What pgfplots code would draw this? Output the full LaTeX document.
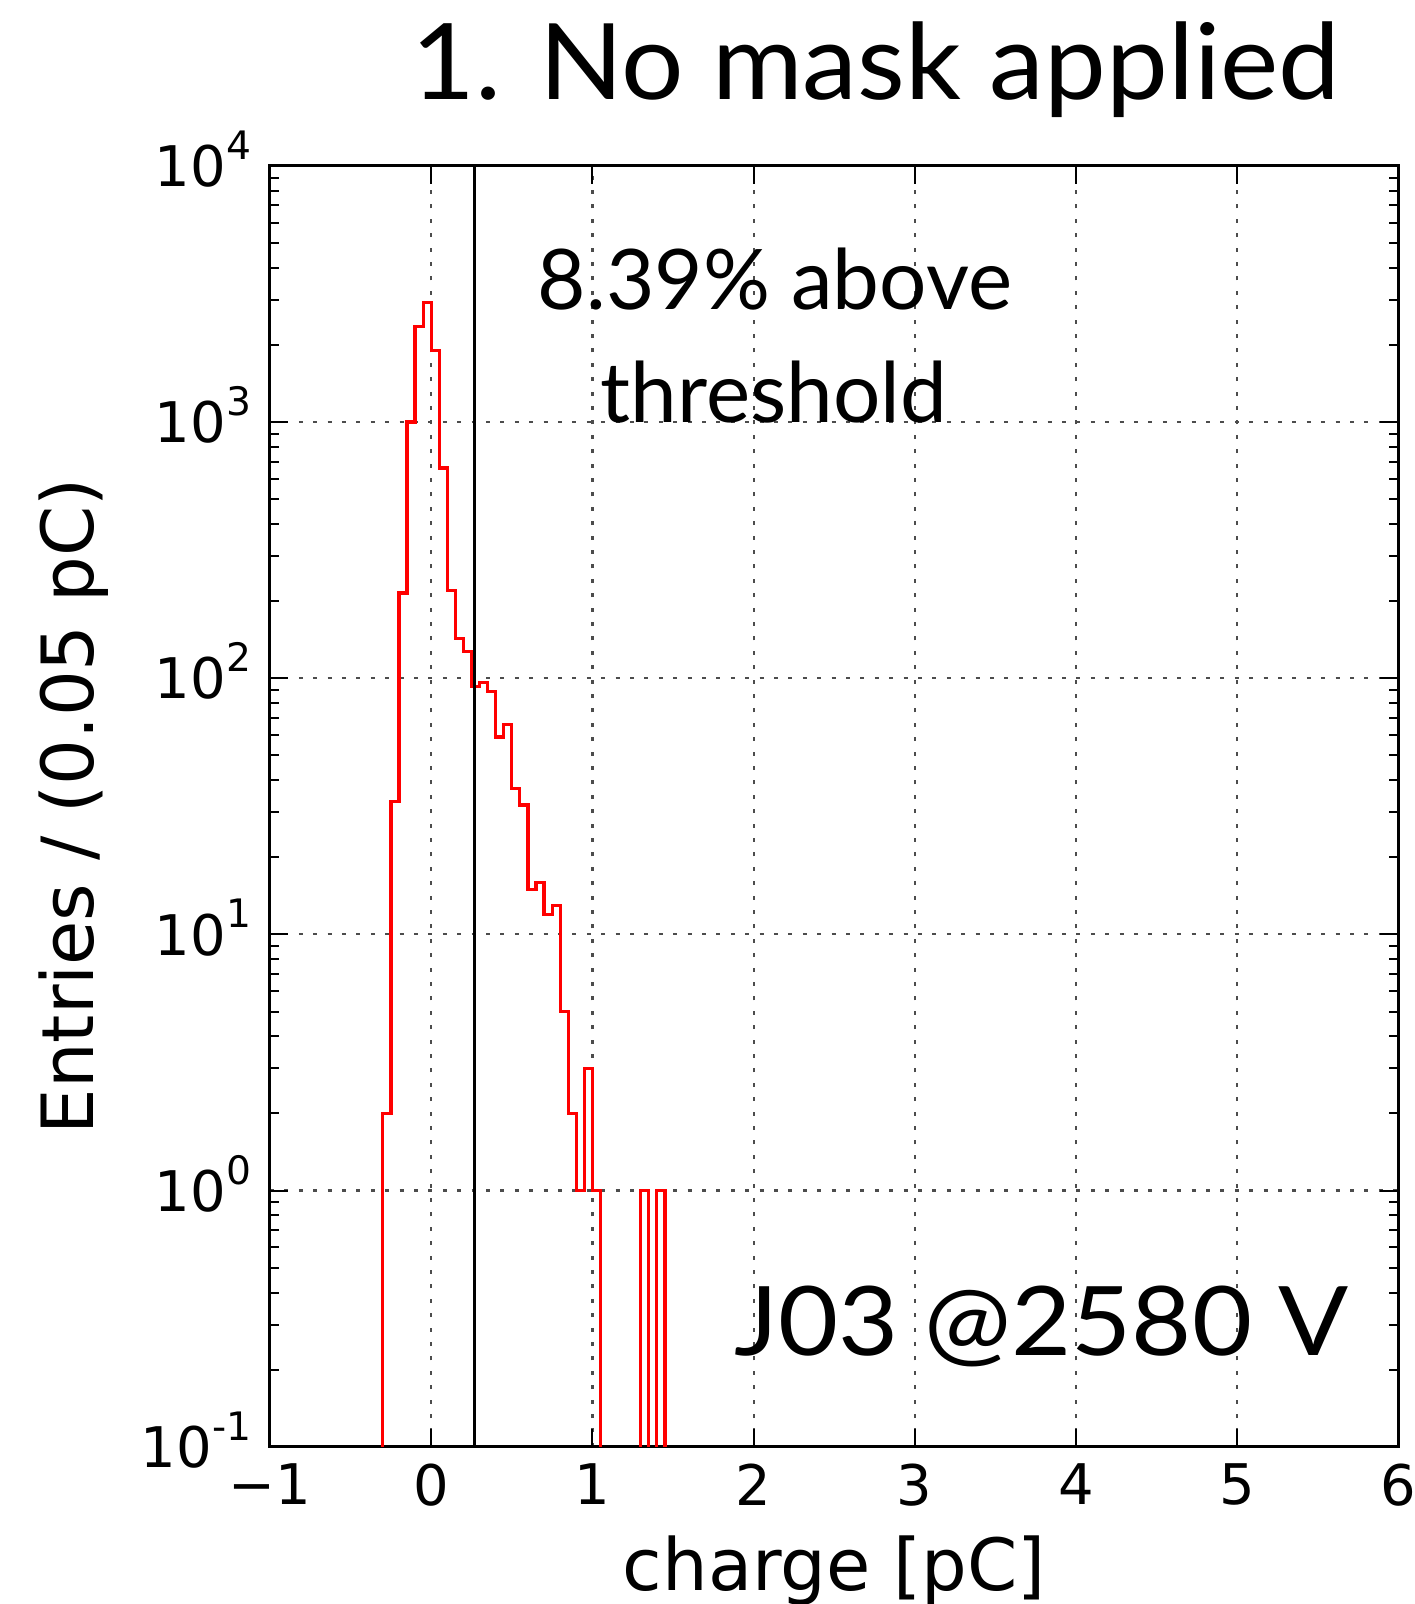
\documentclass[border=0pt]{standalone}
\usepackage{fontspec}
\setmainfont{DejaVu Sans}
\newfontfamily\lato{Lato}
\newfontfamily\latotitle[FakeStretch=1.044]{Lato}
\newfontfamily\latowide[FakeStretch=1.08]{Lato}
\usepackage{pgfplots}
\pgfplotsset{compat=1.18}
\newcommand\tp[1]{10\raisebox{6.8pt}{\fontsize{9.8pt}{10pt}\selectfont #1}}
\begin{document}
\begin{tikzpicture}
\useasboundingbox (-67.5pt,-39.3pt) rectangle (286pt,361.7pt);
\begin{axis}[
  at={(0,0)}, anchor=south west,
  scale only axis, width=282.1pt, height=320.25pt,
  xmin=-1, xmax=6, ymode=log, ymin=0.1, ymax=10000,
  xtick={-1,0,1,2,3,4,5,6}, xticklabels={−1,0,1,2,3,4,5,6},
  ytick={0.1,1,10,100,1000,10000},
  yticklabels={\tp{-1},\tp{0},\tp{1},\tp{2},\tp{3},\tp{4}},
  tick align=inside, major tick length=4.5pt, minor tick length=2.3pt,
  axis line style={line width=0.75pt},
  every tick/.style={black, line width=0.5pt},
  grid=major,
  major grid style={black!70, line width=0.55pt, dash pattern=on 1pt off 2.6pt},
  ticklabel style={font=\fontsize{14pt}{16pt}\selectfont},
  xticklabel style={inner sep=0pt, anchor=north, yshift=-4.1pt},
  yticklabel style={inner sep=0pt, anchor=base east, xshift=-4.5pt, yshift=-5.2pt},
  xlabel={charge [pC]}, ylabel={Entries / (0.05 pC)},
  label style={font=\fontsize{18pt}{20pt}\selectfont, inner sep=0pt},
  xlabel style={at={(axis description cs:0.5,-0.1118)}, anchor=base},
  ylabel style={at={(axis description cs:-0.1567,0.5)}, anchor=base, rotate=0},
]
\addplot[red, line width=0.8pt, const plot mark left] coordinates {
  (-0.35,0.0001) (-0.30,2) (-0.25,33) (-0.20,215) (-0.15,1000) (-0.10,2360)
  (-0.05,2930) (0.00,1905) (0.05,661) (0.10,220) (0.15,143) (0.20,127)
  (0.25,93) (0.30,96) (0.35,89) (0.40,59) (0.45,66) (0.50,37) (0.55,32)
  (0.60,15) (0.65,16) (0.70,12) (0.75,13) (0.80,5) (0.85,2) (0.90,1)
  (0.95,3) (1.00,1) (1.05,0.0001) (1.30,1) (1.35,0.0001) (1.40,1) (1.45,0.0001)
};
\addplot[black, line width=0.9pt] coordinates {(0.269,0.1) (0.269,10000)};
\end{axis}
\node[anchor=base, inner sep=0pt, font=\latotitle\fontsize{26.4pt}{30pt}\selectfont] at (151.5pt,336.9pt) {1. No mask applied};
\node[anchor=base, inner sep=0pt, font=\lato\fontsize{20.9pt}{24pt}\selectfont] at (126.25pt,284.2pt) {8.39\% above};
\node[anchor=base, inner sep=0pt, font=\lato\fontsize{20.9pt}{24pt}\selectfont] at (126pt,256pt) {threshold};
\node[anchor=base, inner sep=0pt, font=\latowide\fontsize{24pt}{28pt}\selectfont] at (192.9pt,22.75pt) {J03 @2580 V};
\end{tikzpicture}
\end{document}
